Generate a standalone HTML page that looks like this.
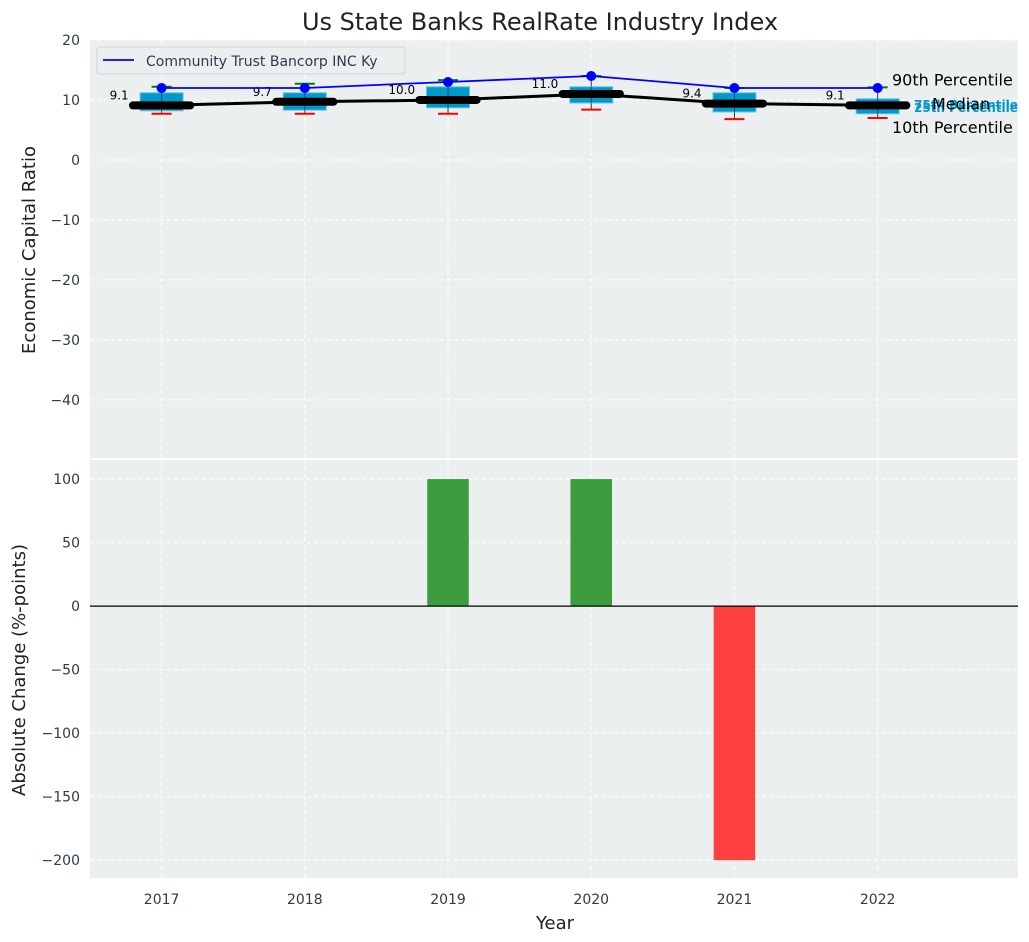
<!DOCTYPE html>
<html><head><meta charset="utf-8"><style>
html,body{margin:0;padding:0;background:#fff;}
svg{display:block;font-family:"DejaVu Sans","Liberation Sans",sans-serif;}
</style></head><body>
<svg id="c" width="1029" height="942" viewBox="0 0 1029 942" xmlns="http://www.w3.org/2000/svg"></svg>
<script>
const years = [2017, 2018, 2019, 2020, 2021, 2022];
const q1 = [8.2, 8.3, 8.7, 9.5, 8.0, 7.7];
const q3 = [11.2, 11.2, 12.2, 12.2, 11.2, 10.2];
const p10 = [7.7, 7.7, 7.7, 8.4, 6.8, 7.0];
const p90 = [12.2, 12.7, 13.3, 14.0, 12.0, 12.1];
const medians = [9.1, 9.7, 10.0, 11.0, 9.4, 9.1];
const company = [12, 12, 13, 14, 12, 12];
const changes = [0, 0, 100, 100, -200, 0];
const topTicks = [20, 10, 0, -10, -20, -30, -40];
const botTicks = [100, 50, 0, -50, -100, -150, -200];

const NS = "http://www.w3.org/2000/svg";
const svg = document.getElementById('c');
function mk(tag, attrs, parent, text) {
  const e = document.createElementNS(NS, tag);
  for (const k in attrs) e.setAttribute(k, attrs[k]);
  if (text !== undefined) e.textContent = text;
  (parent || svg).appendChild(e);
  return e;
}
const L = 90, R = 1018;
const xs = y => L + (y - 2016.5) / (2022.98 - 2016.5) * (R - L);
const T0 = 40, T1 = 458;
const yt = v => T0 + (20 - v) / (20 - (-49.7)) * (T1 - T0);
const B0 = 460, B1 = 878;
const yb = v => B0 + (115 - v) / (115 - (-214)) * (B1 - B0);
const BG = "#eceff0";
const TC = "#2e3b4a";

let e = mk('rect', {x: L, y: T0, width: R - L, height: T1 - T0, fill: BG});
 
e = mk('rect', {x: L, y: B0, width: R - L, height: B1 - B0, fill: BG});
 

const grid = mk('g', {stroke: '#fff', 'stroke-width': 1, 'stroke-dasharray': '4,3'});
 
years.forEach(y => {
  mk('line', {x1: xs(y), x2: xs(y), y1: T0, y2: T1}, grid);
});
topTicks.forEach(v => mk('line', {x1: L, x2: R, y1: yt(v), y2: yt(v)}, grid));

topTicks.forEach(v => {
  const t = mk('text', {x: L - 10, y: yt(v) + 5, 'text-anchor': 'end', 'font-size': 14, fill: TC}, svg, (v < 0 ? '\u2212' + (-v) : v));
   
});
botTicks.forEach(v => {
  const t = mk('text', {x: L - 10, y: yb(v) + 5, 'text-anchor': 'end', 'font-size': 14, fill: TC}, svg, (v < 0 ? '\u2212' + (-v) : v));
   
});
years.forEach(y => {
  const t = mk('text', {x: xs(y), y: 904, 'text-anchor': 'middle', 'font-size': 14, fill: TC}, svg, y);
   
});

const bw = 0.3, mw = 0.4;
years.forEach((y, i) => {
  const g = mk('g', {});
   
  mk('line', {x1: xs(y), x2: xs(y), y1: yt(p10[i]), y2: yt(p90[i]), stroke: '#333', 'stroke-width': 1}, g);
  mk('rect', {x: xs(y - bw / 2), y: yt(q3[i]), width: xs(y + bw / 2) - xs(y - bw / 2), height: yt(q1[i]) - yt(q3[i]), fill: '#0099cc', stroke: '#66c2e0', 'stroke-width': 1}, g);
  mk('line', {x1: xs(y), x2: xs(y), y1: yt(q3[i]), y2: yt(q1[i]), stroke: '#1a4d66', 'stroke-width': 1}, g);
  mk('line', {x1: xs(y - 0.07), x2: xs(y + 0.07), y1: yt(p10[i]), y2: yt(p10[i]), stroke: 'red', 'stroke-width': 2}, g);
  mk('line', {x1: xs(y - 0.07), x2: xs(y + 0.07), y1: yt(p90[i]), y2: yt(p90[i]), stroke: 'green', 'stroke-width': 2}, g);
});
let pts = years.map((y, i) => xs(y) + ',' + yt(medians[i])).join(' ');
e = mk('polyline', {points: pts, fill: 'none', stroke: '#000', 'stroke-width': 3});
 
years.forEach((y, i) => {
  const m = mk('line', {x1: xs(y - mw / 2), x2: xs(y + mw / 2), y1: yt(medians[i]), y2: yt(medians[i]), stroke: '#000', 'stroke-width': 8, 'stroke-linecap': 'round'});
   
  const t = mk('text', {x: xs(y - 0.23), y: yt(medians[i]) - 6, 'text-anchor': 'end', 'font-size': 12, fill: '#000'}, svg, medians[i].toFixed(1));
   
});
pts = years.map((y, i) => xs(y) + ',' + yt(company[i])).join(' ');
e = mk('polyline', {points: pts, fill: 'none', stroke: '#0000ff', 'stroke-width': 1.8});
 
years.forEach((y, i) => {
  const c = mk('circle', {cx: xs(y), cy: yt(company[i]), r: 5, fill: '#0000ff'});
   
});

[['90th Percentile', 892, yt(p90[5]) - 2, 16, '#000'], ['75th Percentile', 914, yt(q3[5]) + 10, 12, '#0099cc'], ['25th Percentile', 914, yt(q1[5]) - 2, 12, '#0099cc'], ['Median', 932, yt(medians[5]) + 4, 16, '#000'], ['10th Percentile', 892, yt(p10[5]) + 15, 16, '#000']].forEach(a => {
  const t = mk('text', {x: a[1], y: a[2], 'font-size': a[3], fill: a[4], 'font-weight': a[3] == 12 ? 'bold' : 'normal'}, svg, a[0]);
   
});

const lg = mk('g', {});
 
mk('rect', {x: 97, y: 47, width: 308, height: 27, rx: 3, fill: '#eceff0', stroke: '#d0d4d8', 'stroke-width': 1}, lg);
mk('line', {x1: 103, x2: 134, y1: 60, y2: 60, stroke: '#0000ff', 'stroke-width': 1.8}, lg);
mk('text', {x: 146, y: 66, 'font-size': 14, fill: TC}, lg, 'Community Trust Bancorp INC Ky');

const g2 = mk('g', {stroke: '#fff', 'stroke-width': 1, 'stroke-dasharray': '4,3'});
 
years.forEach(y => mk('line', {x1: xs(y), x2: xs(y), y1: B0, y2: B1}, g2));
botTicks.forEach(v => mk('line', {x1: L, x2: R, y1: yb(v), y2: yb(v)}, g2));
const barW = 0.29;
years.forEach((y, i) => {
  if (changes[i] === 0) return;
  const v = changes[i];
  const b = mk('rect', {x: xs(y - barW / 2), y: Math.min(yb(v), yb(0)), width: xs(y + barW / 2) - xs(y - barW / 2), height: Math.abs(yb(v) - yb(0)), fill: v > 0 ? '#3d9c3d' : '#ff4040'});
   
});
e = mk('line', {x1: L, x2: R, y1: yb(0), y2: yb(0), stroke: '#000', 'stroke-width': 1.2});
 

e = mk('text', {x: 540, y: 30, 'text-anchor': 'middle', 'font-size': 24, fill: '#222'}, svg, 'Us State Banks RealRate Industry Index');
 
e = mk('text', {x: 0, y: 0, 'text-anchor': 'middle', 'font-size': 18, fill: '#222', transform: 'translate(35,250) rotate(-90)'}, svg, 'Economic Capital Ratio');
 
e = mk('text', {x: 0, y: 0, 'text-anchor': 'middle', 'font-size': 18, fill: '#222', transform: 'translate(25,670) rotate(-90)'}, svg, 'Absolute Change (%-points)');
 
e = mk('text', {x: 555, y: 929, 'text-anchor': 'middle', 'font-size': 18, fill: '#222'}, svg, 'Year');
 
</script>
</body></html>
